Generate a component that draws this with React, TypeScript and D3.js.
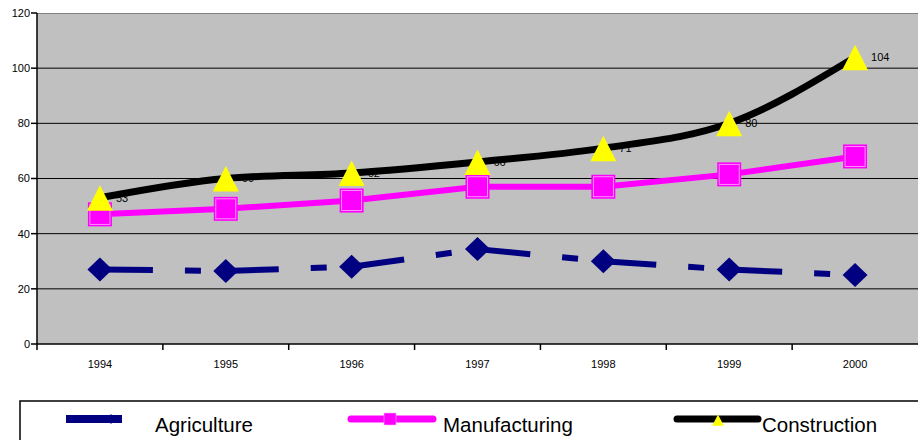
import React from 'react'
import * as d3 from 'd3'

const years = ['1994', '1995', '1996', '1997', '1998', '1999', '2000']
const agriculture = [27, 26.5, 28, 34.4, 30, 27, 25]
const manufacturing = [47, 49, 52, 57, 57, 61.5, 68]
const construction = [53, 60, 62, 66, 71, 80, 104]
const yTicks = [0, 20, 40, 60, 80, 100, 120]

const W = 918,
	H = 440

const App = () => {
	const left = 37,
		top = 13,
		bottom = 344,
		right = 918

	const x = d3.scaleBand().domain(years).range([left, right])
	const cx = (i: number) => x(years[i])! + x.bandwidth() / 2
	const y = d3.scaleLinear().domain([0, 120]).range([bottom, top])

	const straight = d3
		.line<number>()
		.x((_, i) => cx(i))
		.y((d) => y(d))
	const smooth = d3
		.line<number>()
		.x((_, i) => cx(i))
		.y((d) => y(d))
		.curve(d3.curveMonotoneX)
	// single segment between point i and i+1
	const segment = d3.line<[number, number]>()

	const diamond = (px: number, py: number, rx: number, ry: number) =>
		`M${px},${py - ry}L${px + rx},${py}L${px},${py + ry}L${px - rx},${py}Z`
	// apex up, s = scale
	const triangle = (px: number, py: number, s: number) =>
		`M${px},${py - s * 12.5}L${px + s * 13},${py + s * 13}L${px - s * 13},${py + s * 13}Z`

	const font = 'Liberation Sans, Arial, sans-serif'

	return (
		<svg
			width={W}
			height={H}
			style={{ position: 'absolute', left: 0, top: 0, background: '#fff' }}
		>
			<rect x={left} y={top} width={right - left} height={bottom - top} fill="#c0c0c0" />
			<line x1={left} x2={right} y1={top + 0.5} y2={top + 0.5} stroke="#808080" />
			{yTicks.slice(1, -1).map((t) => (
				<line key={t} x1={left} x2={right} y1={y(t)} y2={y(t)} stroke="#000" strokeWidth={1} />
			))}
			{/* y axis */}
			<line x1={left} x2={left} y1={top} y2={bottom} stroke="#000" strokeWidth={1.5} />
			{yTicks.map((t) => (
				<g key={t}>
					<line x1={left - 6} x2={left} y1={y(t)} y2={y(t)} stroke="#000" strokeWidth={1.5} />
					<text
						x={left - 7}
						y={y(t)}
						dy="0.35em"
						textAnchor="end"
						fontSize={11}
						fontFamily={font}
					>
						{t}
					</text>
				</g>
			))}
			{/* x axis */}
			<line x1={left} x2={right} y1={bottom} y2={bottom} stroke="#000" strokeWidth={1.5} />
			{years.map((yr, i) => (
				<g key={yr}>
					<line
						x1={x(yr)!}
						x2={x(yr)!}
						y1={bottom}
						y2={bottom + 6}
						stroke="#000"
						strokeWidth={1.5}
					/>
					<text x={cx(i)} y={bottom + 24} textAnchor="middle" fontSize={11} fontFamily={font}>
						{yr}
					</text>
				</g>
			))}

			{/* Agriculture: dashed, pattern restarts each segment */}
			{agriculture.slice(1).map((d, i) => (
				<path
					key={i}
					d={
						segment([
							[cx(i), y(agriculture[i])],
							[cx(i + 1), y(d)],
						])!
					}
					fill="none"
					stroke="#000080"
					strokeWidth={6}
					strokeDasharray="53,32,16,60"
				/>
			))}
			{agriculture.map((d, i) => (
				<path key={i} d={diamond(cx(i), y(d), 12.5, 12)} fill="#000080" />
			))}

			{/* Manufacturing */}
			<path d={straight(manufacturing)!} fill="none" stroke="#ff00ff" strokeWidth={6} />
			{manufacturing.map((d, i) => (
				<g key={i}>
					<rect x={cx(i) - 12} y={y(d) - 12} width={24} height={24} fill="#ff00ff" />
					<rect
						x={cx(i) - 10}
						y={y(d) - 10}
						width={20}
						height={20}
						fill="none"
						stroke="#ffb0ff"
						strokeWidth={0.8}
					/>
				</g>
			))}

			{/* Construction */}
			<path d={smooth(construction)!} fill="none" stroke="#000" strokeWidth={7} />
			{construction.map((d, i) => (
				<text
					key={'l' + i}
					x={cx(i) + 16}
					y={y(d)}
					dy="0.35em"
					fontSize={11}
					fontFamily={font}
					fill="#000"
				>
					{d}
				</text>
			))}
			{construction.map((d, i) => (
				<path key={i} d={triangle(cx(i), y(d), 1)} fill="#ffff00" />
			))}

			{/* legend */}
			<rect x={20} y={401} width={W} height={60} fill="#fff" stroke="#000" strokeWidth={1.5} />
			<line x1={66} x2={122} y1={419} y2={419} stroke="#000080" strokeWidth={8} />
			<path d={diamond(111, 419, 4, 5)} fill="#000080" />
			<text x={155} y={432} fontSize={20.5} fontFamily={font}>
				Agriculture
			</text>
			<line
				x1={351}
				x2={433}
				y1={419}
				y2={419}
				stroke="#ff00ff"
				strokeWidth={7}
				strokeLinecap="round"
			/>
			<rect x={384} y={413} width={12} height={12} fill="#ff00ff" stroke="#ffb0ff" strokeWidth={0.6} />
			<text x={443} y={432} fontSize={20.5} fontFamily={font}>
				Manufacturing
			</text>
			<line
				x1={677}
				x2={758}
				y1={419}
				y2={419}
				stroke="#000"
				strokeWidth={7}
				strokeLinecap="round"
			/>
			<path d={triangle(718, 420, 0.45)} fill="#ffff00" />
			<text x={762} y={432} fontSize={20.5} fontFamily={font}>
				Construction
			</text>
		</svg>
	)
}

export default App
